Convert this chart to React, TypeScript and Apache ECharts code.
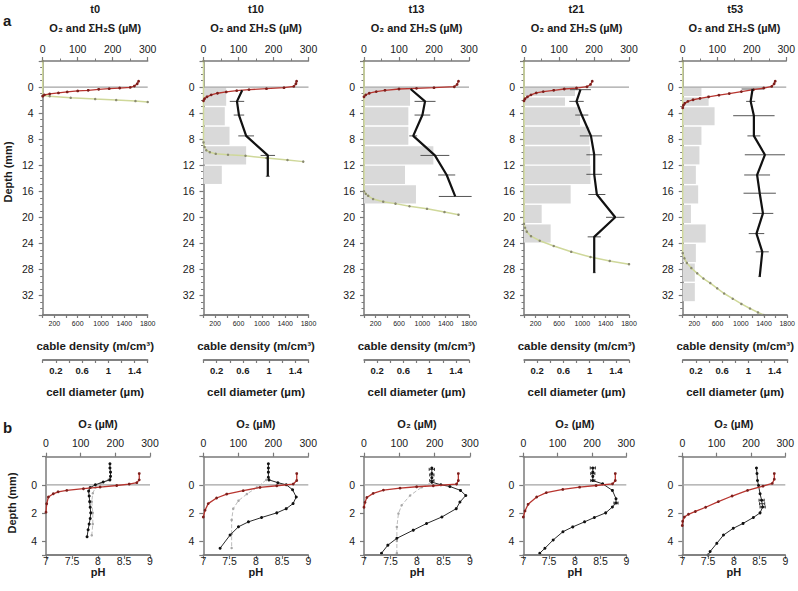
import React, { useEffect, useRef } from 'react';
import * as echarts from 'echarts';

// ---------- DATA ----------
const timepoints = ['t0', 't10', 't13', 't21', 't53'];

// Panel a: O2 profiles [µM, depth mm]
const o2A_t0 = [[274,-0.9],[270,-0.5],[262,-0.15],[250,0.05],[220,0.15],[190,0.25],[160,0.35],[130,0.5],[100,0.6],[70,0.75],[45,0.9],[20,1.05],[5,1.2],[0,1.4]];
const o2A_t10 = [[266,-0.9],[264,-0.5],[258,-0.1],[230,0.1],[180,0.25],[130,0.4],[95,0.55],[65,0.75],[40,0.95],[22,1.2],[10,1.5],[3,1.8],[0,2.1]];
const o2A_t13 = [[270,-0.9],[266,-0.4],[258,-0.05],[200,0.1],[150,0.2],[100,0.3],[60,0.5],[35,0.7],[15,0.95],[5,1.2],[0,1.5]];
const o2A_t21 = [[195,-0.9],[190,-0.4],[180,-0.05],[150,0.15],[115,0.3],[85,0.5],[55,0.7],[35,0.9],[20,1.2],[10,1.5],[3,1.8],[0,2.1]];
const o2A_t53 = [[268,-0.9],[265,-0.5],[258,-0.1],[235,0.15],[205,0.4],[170,0.7],[135,1.0],[105,1.25],[75,1.5],[50,1.75],[30,1.95],[15,2.2],[6,2.5],[2,2.8],[0,3.2]];

// Panel a: ΣH2S profiles [µM, depth mm]
const h2sA_t0 = [[0,-4],[0,1.3],[20,1.4],[80,1.65],[150,1.85],[210,2.0],[265,2.15],[300,2.3]];
const h2sA_t10 = [[0,-4],[0,8.5],[3,9.2],[8,9.7],[18,10.0],[35,10.25],[70,10.4],[120,10.55],[180,10.9],[240,11.2],[285,11.45]];
const h2sA_t13 = [[0,-4],[0,16.0],[5,16.4],[12,16.7],[26,17.2],[55,17.6],[90,17.9],[130,18.3],[180,18.7],[230,19.2],[270,19.6]];
const h2sA_t21 = [[0,-4],[0,21],[3,21.6],[8,22.2],[20,22.9],[45,23.6],[85,24.4],[135,25.3],[190,26.1],[245,26.7],[300,27.2]];
const h2sA_t53 = [[0,-4],[0,25.5],[5,26.3],[12,27],[25,27.8],[42,28.6],[60,29.4],[80,30.1],[100,30.9],[120,31.7],[145,32.5],[170,33.3],[195,34],[218,34.6],[235,35]];

// Panel a: cable density bars [m/cm³, top depth, bottom depth]
const cable_t0: number[][] = [];
const cable_t10 = [[389,0,3],[365,3,6],[446,6,9],[731,9,12],[314,12,15]];
const cable_t13 = [[789,0,3],[760,3,6],[760,6,9],[1189,9,12],[703,12,15],[891,15,18]];
const cable_t21 = [[874,0,1.5],[703,1.5,3],[960,3,6],[1120,6,9],[1131,9,12],[1140,12,15],[800,15,18],[303,18,21],[457,21,24]];
const cable_t53 = [[326,0,1.5],[451,1.5,3],[554,3,6],[326,6,9],[291,9,12],[229,12,15],[269,15,18],[143,18,21],[400,21,24],[229,24,27],[211,27,30],[211,30,33]];

// Panel a: cell diameter [depth mm, µm, ± sd]
const cell_t0: number[][] = [];
const cell_t10 = [[0.5,0.59,0],[2.2,0.51,0.11],[4.3,0.54,0.08],[7.5,0.65,0.12],[10.5,0.98,0.11],[13.7,0.98,0.03]];
const cell_t13 = [[0.3,0.71,0],[2.2,0.93,0.16],[4.3,0.89,0.12],[7.5,0.75,0.06],[10.5,1.08,0.22],[13.5,1.26,0.13],[16.8,1.39,0.25]];
const cell_t21 = [[0.4,0.86,0.16],[2.2,0.80,0.11],[4.3,0.88,0.10],[7.5,1.02,0.17],[10.4,1.07,0.12],[13.4,1.07,0.12],[16.5,1.11,0.13],[20.0,1.39,0.14],[23.0,1.07,0.10],[28.5,1.07,0.02]];
const cell_t53 = [[0.3,1.08,0.17],[2.2,1.05,0.07],[4.4,1.10,0.32],[7.5,1.10,0.10],[10.4,1.27,0.31],[13.5,1.15,0.20],[16.3,1.19,0.25],[19.4,1.24,0.16],[22.5,1.14,0.12],[25.3,1.23,0.10],[29.1,1.19,0.02]];

// Panel b: pH profiles [pH, depth mm]
const phB_t0 = [[8.23,-1.5],[8.23,-1.2],[8.24,-0.9],[8.24,-0.6],[8.23,-0.35],[8.1,-0.2],[7.95,0.0],[7.85,0.2],[7.82,0.45],[7.83,0.8],[7.84,1.2],[7.85,1.6],[7.86,2.0],[7.85,2.4],[7.83,2.8],[7.81,3.2],[7.79,3.7]];
const phB_t10 = [[8.24,-1.5],[8.24,-1.2],[8.24,-0.9],[8.24,-0.54],[8.25,-0.35],[8.42,-0.15],[8.58,0],[8.70,0.35],[8.77,0.87],[8.71,1.34],[8.58,1.7],[8.40,2.0],[8.11,2.33],[7.86,2.64],[7.67,2.99],[7.51,3.58],[7.32,4.52]];
const phB_t13 = [[8.28,-1.2],[8.28,-0.8],[8.28,-0.5],[8.28,-0.19],[8.45,0],[8.62,0.12],[8.82,0.4],[8.92,0.76],[8.81,1.23],[8.74,1.7],[8.47,2.29],[8.18,2.76],[7.93,3.23],[7.62,3.81],[7.45,4.3],[7.33,4.87]];
const phB_t21 = [[8.35,-1.2],[8.35,-0.9],[8.35,-0.6],[8.35,-0.3],[8.54,-0.07],[8.73,0.4],[8.80,0.99],[8.80,1.3],[8.73,1.58],[8.60,2.0],[8.38,2.33],[8.19,2.64],[7.96,3.0],[7.77,3.34],[7.58,3.93],[7.42,4.52],[7.32,4.87]];
const phB_t53 = [[8.44,-1.2],[8.45,-0.8],[8.46,-0.3],[8.48,0.05],[8.51,0.64],[8.54,1.1],[8.56,1.58],[8.51,2.0],[8.38,2.33],[8.18,2.75],[7.99,3.1],[7.80,3.58],[7.67,4.17],[7.54,4.75],[7.50,5.0]];

// Panel b: second (grey) pH profiles [pH, depth mm]
const phGreyB_t0 = [[8.2,-0.35],[8.05,-0.1],[7.95,0.2],[7.9,0.6],[7.88,1.2],[7.9,2.0],[7.9,2.8],[7.88,3.6]];
const phGreyB_t10 = [[8.2,-0.35],[8.02,0.19],[7.83,0.66],[7.67,1.13],[7.57,1.7],[7.54,2.5],[7.54,3.5],[7.54,4.5]];
const phGreyB_t13 = [[8.28,-0.19],[8.09,0.17],[7.87,0.76],[7.71,1.46],[7.65,2.05],[7.62,3.0],[7.62,4.0],[7.62,4.87]];
const phGreyB_t21: number[][] = [];
const phGreyB_t53: number[][] = [];

// Panel b: pH error bars [depth mm, pH, ± sd]
const phErr_t0: number[][] = [];
const phErr_t10: number[][] = [];
const phErr_t13 = [[-1.1,8.28,0.05],[-0.7,8.28,0.04],[-0.3,8.28,0.04]];
const phErr_t21 = [[-1.2,8.35,0.05],[-0.8,8.35,0.04],[-0.3,8.35,0.04],[1.3,8.8,0.04]];
const phErr_t53 = [[1.1,8.54,0.05],[1.35,8.55,0.05],[1.58,8.56,0.05]];

// Panel b: O2 profiles [µM, depth mm]
const o2B_t0 = [[269,-0.8],[269,-0.35],[262,-0.15],[240,-0.05],[204,0.05],[156,0.16],[108,0.28],[60,0.4],[35,0.5],[21,0.64],[7,0.87],[2,1.35],[0,1.95]];
const o2B_t10 = [[267,-0.8],[267,-0.3],[257,-0.05],[210,0.07],[162,0.19],[114,0.42],[67,0.66],[38,0.94],[14,1.34],[5,1.81],[0,2.3]];
const o2B_t13 = [[267,-0.8],[267,-0.3],[262,-0.05],[196,0.07],[149,0.14],[102,0.24],[55,0.38],[26,0.61],[8,0.9],[3,1.25],[0,1.6]];
const o2B_t21 = [[268,-0.8],[268,-0.3],[260,-0.07],[212,0.05],[164,0.17],[115,0.33],[67,0.56],[39,0.87],[14,1.39],[5,1.86],[0,2.3]];
const o2B_t53 = [[268,-0.8],[268,-0.4],[262,-0.1],[235,0.1],[190,0.4],[145,0.8],[105,1.2],[68,1.6],[38,1.9],[18,2.1],[6,2.3],[1,2.6],[0,2.9]];

const o2AList = [o2A_t0, o2A_t10, o2A_t13, o2A_t21, o2A_t53];
const h2sAList = [h2sA_t0, h2sA_t10, h2sA_t13, h2sA_t21, h2sA_t53];
const cableList = [cable_t0, cable_t10, cable_t13, cable_t21, cable_t53];
const cellList = [cell_t0, cell_t10, cell_t13, cell_t21, cell_t53];
const phBList = [phB_t0, phB_t10, phB_t13, phB_t21, phB_t53];
const phGreyList = [phGreyB_t0, phGreyB_t10, phGreyB_t13, phGreyB_t21, phGreyB_t53];
const phErrList = [phErr_t0, phErr_t10, phErr_t13, phErr_t21, phErr_t53];
const o2BList = [o2B_t0, o2B_t10, o2B_t13, o2B_t21, o2B_t53];
const surface = [[0, 0], [300, 0]];

// ---------- STYLE / LAYOUT ----------
const FONT = "'Liberation Sans', Arial, Helvetica, sans-serif";
const AX = '#7a7a7a';
const TXT = '#1a1a1a';
const RED = '#b8352f';
const RED_DOT = '#7c1f1c';
const GREEN = '#cfd89a';
const GREEN_DOT = '#8a8a70';

const aLeft = [42.7, 203.5, 364, 524, 682.7];
const aWidth = 105;
const aTop = 61;
const aHeight = 254;
const cellAxisY = 360;
const bLeft = [46, 203.3, 364, 523.3, 682.3];
const bWidth = [104, 105, 106, 103, 103];
const bTop = 456.7;
const bHeight = 98.3;

function axisCommon(extra: any = {}) {
  return {
    type: 'value',
    axisLine: { show: true, onZero: false, lineStyle: { color: AX, width: 1.5 } },
    axisTick: { show: true, length: 4, lineStyle: { color: AX, width: 1.2 } },
    splitLine: { show: false },
    nameTextStyle: { fontFamily: FONT, fontWeight: 'bold', fontSize: 11, color: TXT },
    ...extra,
  };
}

function lbl(size: number, margin: number, formatter?: any, weight = 'normal', inside = false) {
  const o: any = { fontFamily: FONT, fontSize: size, color: TXT, margin, fontWeight: weight, inside };
  if (formatter) o.formatter = formatter;
  return o;
}

function line(data: number[][], xi: number, yi: number, color: string, width: number, dot?: { size: number; color: string }, z = 3, dashed = false) {
  return {
    type: 'line', xAxisIndex: xi, yAxisIndex: yi, data,
    symbol: dot ? 'circle' : 'none', symbolSize: dot ? dot.size : 0, showSymbol: !!dot,
    itemStyle: { color: dot ? dot.color : color },
    lineStyle: { color, width, type: dashed ? 'dashed' : 'solid' },
    silent: true, z,
  };
}

// baseline along an axis extent, drawn through the axis scale
function baseline(x0: number, x1: number, y: number, xi: number, yi: number) {
  return { ...line([[x0, y], [x1, y]], xi, yi, AX, 1.5, undefined, 6), clip: false };
}

function barsSeries(data: number[][], xi: number, yi: number) {
  return {
    type: 'custom', xAxisIndex: xi, yAxisIndex: yi, data, silent: true, z: 1,
    encode: { x: 0, y: [1, 2] },
    renderItem: (_p: any, api: any) => {
      const v = api.value(0), t = api.value(1), b = api.value(2);
      const p0 = api.coord([0, t]);
      const p1 = api.coord([v, b]);
      return { type: 'rect', shape: { x: p0[0], y: p0[1] + 0.6, width: p1[0] - p0[0], height: p1[1] - p0[1] - 1.4 }, style: { fill: '#d9d9d9' } };
    },
  };
}

function errSeries(data: number[][], xi: number, yi: number, color: string, capH: number) {
  return {
    type: 'custom', xAxisIndex: xi, yAxisIndex: yi, data, silent: true, z: 4,
    encode: { x: 1, y: 0 },
    renderItem: (_p: any, api: any) => {
      const d = api.value(0), v = api.value(1), e = api.value(2);
      if (!e) return null;
      const a = api.coord([v - e, d]);
      const b = api.coord([v + e, d]);
      const st = { stroke: color, lineWidth: 1 };
      const children: any[] = [{ type: 'line', shape: { x1: a[0], y1: a[1], x2: b[0], y2: b[1] }, style: st }];
      if (capH > 0) {
        children.push({ type: 'line', shape: { x1: a[0], y1: a[1] - capH, x2: a[0], y2: a[1] + capH }, style: st });
        children.push({ type: 'line', shape: { x1: b[0], y1: b[1] - capH, x2: b[0], y2: b[1] + capH }, style: st });
      }
      return { type: 'group', children };
    },
  };
}

function buildOption() {
  const grid: any[] = [];
  const xAxis: any[] = [];
  const yAxis: any[] = [];
  const series: any[] = [];
  const graphic: any[] = [];
  const addGrid = (g: any) => { grid.push(g); return grid.length - 1; };
  const addX = (a: any) => { xAxis.push(a); return xAxis.length - 1; };
  const addY = (a: any) => { yAxis.push(a); return yAxis.length - 1; };
  const title = (text: string, x: number, y: number, size: number) => graphic.push({
    type: 'text', x, y,
    style: { text, fontFamily: FONT, fontWeight: 'bold', fontSize: size, fill: TXT, align: 'center', verticalAlign: 'middle' },
  });

  // an axis drawn along the lower edge of a panel, built as a 'top' axis of a 1px grid
  const lowerAxis = (left: number, width: number, y: number, min: number, max: number, interval: number, label: any, tickLen: number) => {
    const g = addGrid({ left, top: y, width, height: 1 });
    const xi = addX(axisCommon({
      gridIndex: g, position: 'top', min, max, interval,
      axisTick: { show: true, inside: true, length: tickLen, lineStyle: { color: AX, width: 1.2 } },
      axisLabel: label,
    }));
    const yi = addY({ type: 'value', gridIndex: g, min: 0, max: 1, show: false });
    series.push(baseline(min, max, 1, xi, yi));
  };

  // ---- Panel a ----
  for (let i = 0; i < 5; i++) {
    const g = addGrid({ left: aLeft[i], top: aTop, width: aWidth, height: aHeight });
    const xo = addX(axisCommon({
      gridIndex: g, position: 'top', min: 0, max: 300, interval: 100,
      name: 'O₂ and ΣH₂S (µM)', nameLocation: 'middle', nameGap: 28,
      axisLabel: lbl(10.5, 7),
      minorTick: { show: true, splitNumber: 2, length: 2.5, lineStyle: { color: AX } },
    }));
    const xc = addX({ type: 'value', gridIndex: g, position: 'bottom', min: 0, max: 1800, show: false });
    const xd = addX({ type: 'value', gridIndex: g, position: 'bottom', min: 0, max: 1.6, show: false });
    const yi = addY(axisCommon({
      gridIndex: g, inverse: true, min: -4, max: 35, interval: 4,
      axisLabel: lbl(10.5, 9, (v: number) => (v >= 0 && v <= 32 && v % 4 === 0 ? String(v) : '')),
      minorTick: { show: true, splitNumber: 4, length: 2.5, lineStyle: { color: AX } },
    }));

    if (cableList[i].length) series.push(barsSeries(cableList[i], xc, yi));
    series.push(line(surface, xo, yi, '#a3a3a3', 1.3, undefined, 2));
    series.push(line(h2sAList[i], xo, yi, GREEN, 1.5, { size: 2.5, color: GREEN_DOT }, 3));
    series.push(line(o2AList[i], xo, yi, RED, 1.3, { size: 2.8, color: RED_DOT }, 4));
    if (cellList[i].length) {
      series.push(line(cellList[i].map((r) => [r[1], r[0]]), xd, yi, '#111', 2.2, undefined, 5));
      series.push(errSeries(cellList[i], xd, yi, '#555', 0));
    }

    // cable density axis along the panel bottom
    lowerAxis(aLeft[i], aWidth, aTop + aHeight, 0, 1800, 200,
      lbl(7, 5, (v: number) => ((v - 200) % 400 === 0 ? String(v) : ''), 'normal', true), 3);
    // cell diameter axis below it
    lowerAxis(aLeft[i], aWidth, cellAxisY, 0, 1.6, 0.2,
      lbl(9.5, 5, (v: number) => {
        const k = Math.round(v * 10);
        return [2, 6, 10, 14].includes(k) ? String(k / 10) : '';
      }, 'bold', true), 3);

    const cx = aLeft[i] + aWidth / 2;
    title(timepoints[i], cx, 9, 11);
    title('cable density (m/cm³)', cx, 345.5, 11.5);
    title('cell diameter (µm)', cx, 392, 11.5);
  }

  // ---- Panel b ----
  for (let i = 0; i < 5; i++) {
    const g = addGrid({ left: bLeft[i], top: bTop, width: bWidth[i], height: bHeight });
    const xo = addX(axisCommon({
      gridIndex: g, position: 'top', min: 0, max: 300, interval: 100,
      name: 'O₂ (µM)', nameLocation: 'middle', nameGap: 27,
      axisLabel: lbl(10.5, 8),
    }));
    const xp = addX({ type: 'value', gridIndex: g, position: 'bottom', min: 7, max: 9, show: false });
    const yi = addY(axisCommon({
      gridIndex: g, inverse: true, min: -2, max: 5, interval: 2,
      axisLabel: lbl(10.5, 9, (v: number) => (v >= 0 && v <= 4 ? String(v) : '')),
    }));
    series.push(line(surface, xo, yi, '#a3a3a3', 1.3, undefined, 2));
    if (phGreyList[i].length) series.push(line(phGreyList[i], xp, yi, '#bdbdbd', 1, { size: 2.5, color: '#a8a8a8' }, 3, true));
    series.push(line(phBList[i], xp, yi, '#2a2a2a', 1, { size: 3, color: '#111' }, 4));
    if (phErrList[i].length) series.push(errSeries(phErrList[i], xp, yi, '#333', 1.5));
    series.push(line(o2BList[i], xo, yi, RED, 1.3, { size: 2.8, color: RED_DOT }, 5));

    // pH axis along the panel bottom
    lowerAxis(bLeft[i], bWidth[i], bTop + bHeight, 7, 9, 0.5, lbl(10.5, 0, undefined, 'normal', true), 4);
    title('pH', bLeft[i] + bWidth[i] / 2, 572, 11);
  }

  graphic.push({ type: 'text', x: 3, y: 20, style: { text: 'a', fontFamily: FONT, fontWeight: 'bold', fontSize: 15, fill: TXT, align: 'left', verticalAlign: 'middle' } });
  graphic.push({ type: 'text', x: 3, y: 427, style: { text: 'b', fontFamily: FONT, fontWeight: 'bold', fontSize: 15, fill: TXT, align: 'left', verticalAlign: 'middle' } });
  graphic.push({ type: 'text', x: 8, y: 172, rotation: Math.PI / 2, style: { text: 'Depth (mm)', fontFamily: FONT, fontWeight: 'bold', fontSize: 11, fill: TXT, align: 'center', verticalAlign: 'middle' } });
  graphic.push({ type: 'text', x: 12, y: 503, rotation: Math.PI / 2, style: { text: 'Depth (mm)', fontFamily: FONT, fontWeight: 'bold', fontSize: 11, fill: TXT, align: 'center', verticalAlign: 'middle' } });

  return { animation: false, backgroundColor: '#fff', grid, xAxis, yAxis, series, graphic };
}

export default function App() {
  const ref = useRef<HTMLDivElement>(null);
  useEffect(() => {
    const chart = echarts.init(ref.current as HTMLDivElement, undefined, { renderer: 'svg', width: 798, height: 591 });
    chart.setOption(buildOption() as any);
    return () => chart.dispose();
  }, []);
  return <div ref={ref} style={{ position: 'absolute', left: 0, top: 0, width: 798, height: 591, background: '#fff' }} />;
}
